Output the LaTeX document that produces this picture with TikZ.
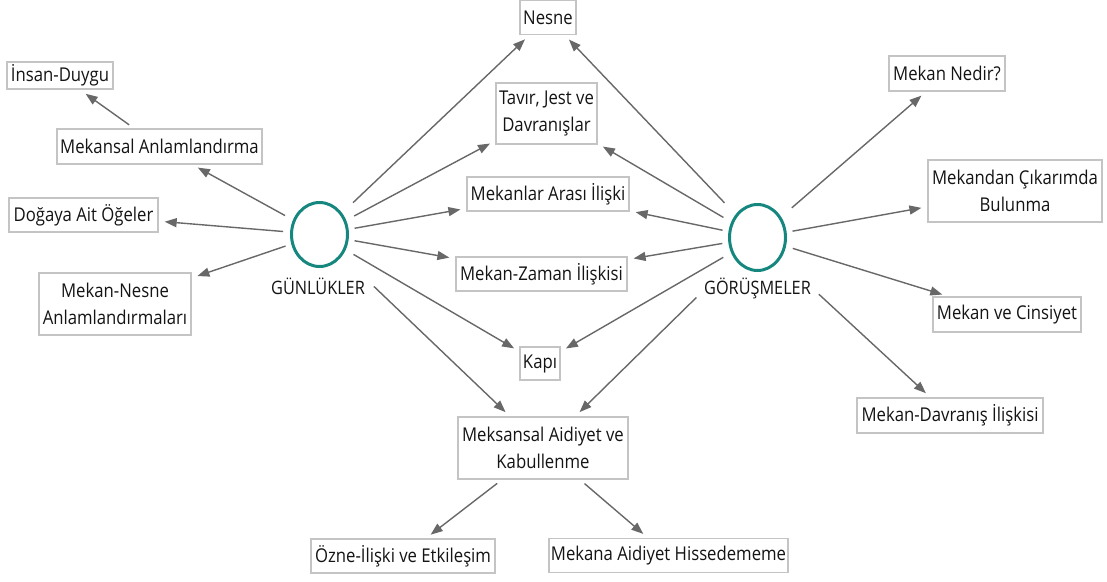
\documentclass[tikz,border=0pt]{standalone}
\usepackage{fontspec}
\setmainfont{Open Sans}[FakeStretch=0.88]
\usetikzlibrary{arrows.meta,shapes.geometric}
\definecolor{hubteal}{HTML}{16877F}
\definecolor{boxgray}{HTML}{C4C4C4}
\definecolor{arrgray}{HTML}{686868}
\definecolor{txt}{HTML}{141414}
\begin{document}
\begin{tikzpicture}[x=1pt,y=-1pt,
  box/.style={draw=boxgray, line width=1.4pt, fill=white, minimum height=34pt, inner sep=2pt,
    font=\fontsize{19}{27}\selectfont, align=center, text=txt},
  hub/.style={ellipse, draw=hubteal, line width=3pt, minimum width=56pt, minimum height=64pt, inner sep=0pt},
  lbl/.style={font=\fontsize{18.5}{21}\selectfont, text=txt, inner sep=1pt},
  arr/.style={draw=arrgray, line width=1.4pt, -{Triangle[length=12pt,width=9pt]}, shorten >=6pt},
]
\useasboundingbox (0,0) rectangle (1107,581);

% hubs
\node[hub] (g) at (319.5,234.5) {};
\node[hub, minimum height=66pt] (o) at (757.5,237.5) {};
\node[lbl] (glab) at (318,286.5) {GÜNLÜKLER};
\node[lbl] (olab) at (757.5,288.5) {GÖRÜŞMELER};

% centre column
\node[box, minimum width=56pt] (nesne) at (548,17.5) {Nesne};
\node[box, minimum width=101pt, minimum height=61pt] (tavir) at (546.5,113.5) {Tavır, Jest ve\\Davranışlar};
\node[box, minimum width=162pt] (arasi) at (548,194) {Mekanlar Arası İlişki};
\node[box, minimum width=171pt] (zaman) at (541.5,274) {Mekan-Zaman İlişkisi};
\node[box, minimum width=40pt, minimum height=33pt] (kapi) at (540,363.5) {Kapı};
\node[box, minimum width=170pt, minimum height=62pt] (aidiyet) at (543,448) {Meksansal Aidiyet ve\\Kabullenme};
\node[box, minimum width=184pt] (ozne) at (403,556) {Özne-İlişki ve Etkileşim};
\node[box, minimum width=233pt] (hiss) at (668.5,555.5) {Mekana Aidiyet Hissedememe};

% left column
\node[box, minimum width=106pt, minimum height=27pt] (insan) at (60,75.5) {İnsan-Duygu};
\node[box, minimum width=205pt, minimum height=35pt] (manlam) at (159.5,146.5) {Mekansal Anlamlandırma};
\node[box, minimum width=149pt] (doga) at (83.5,215) {Doğaya Ait Öğeler};
\node[box, minimum width=152pt, minimum height=62pt] (mnesne) at (115,304) {Mekan-Nesne\\Anlamlandırmaları};

% right column
\node[box, minimum width=116pt, minimum height=35pt] (nedir) at (947,73.5) {Mekan Nedir?};
\node[box, minimum width=174pt, minimum height=62pt] (cikarim) at (1015,191) {Mekandan Çıkarımda\\Bulunma};
\node[box, minimum width=148pt, minimum height=35pt] (cins) at (1007,314.5) {Mekan ve Cinsiyet};
\node[box, minimum width=186pt, minimum height=35pt] (davr) at (950,415.5) {Mekan-Davranış İlişkisi};

% arrows from GÜNLÜKLER
\draw[arr, shorten <=15pt] (g) -- (nesne);
\draw[arr, shorten <=9pt] (g) -- (tavir);
\draw[arr, shorten <=6pt] (g) -- (arasi);
\draw[arr, shorten <=6pt] (g) -- (zaman);
\draw[arr, shorten <=9pt] (g) -- (kapi);
\draw[arr, shorten <=44pt] (g) -- (aidiyet);
\draw[arr, shorten <=9pt] (g) -- (manlam);
\draw[arr, shorten <=7pt] (g) -- (doga);
\draw[arr, shorten <=6pt] (g) -- (mnesne);
\draw[arr, shorten <=6pt, shorten >=7pt] (manlam) -- (insan);

% arrows from GÖRÜŞMELER
\draw[arr, shorten <=16pt] (o) -- (nesne);
\draw[arr, shorten <=9pt] (o) -- (tavir);
\draw[arr, shorten <=6pt] (o) -- (arasi);
\draw[arr, shorten <=6pt] (o) -- (zaman);
\draw[arr, shorten <=9pt] (o) -- (kapi);
\draw[arr, shorten <=54pt] (o) -- (aidiyet);
\draw[arr, shorten <=14pt] (o) -- (nedir);
\draw[arr, shorten <=6pt] (o) -- (cikarim);
\draw[arr, shorten <=7pt] (o) -- (cins);
\draw[arr, shorten <=52pt] (o) -- (davr);

% arrows from Aidiyet
\draw[arr, shorten <=6pt] (aidiyet) -- (ozne);
\draw[arr, shorten <=6pt] (aidiyet) -- (hiss);
\end{tikzpicture}
\end{document}
